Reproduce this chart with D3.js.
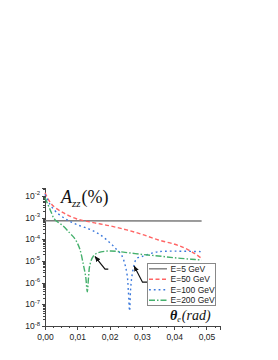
<!DOCTYPE html>
<meta charset="utf-8">
<head>
  <title>Azz versus theta</title>
</head>

<style>
  body {
    margin: 0;
    background: #fff;
    font-family: "Liberation Sans", Arial, sans-serif;
  }
  .axis path, .axis line {
    stroke: #444;
    shape-rendering: crispEdges;
  }
  .axis text {
    font-size: 8.5px;
    fill: #222;
  }
  .curve {
    fill: none;
    stroke-width: 1.4px;
  }
</style>

<body>
  <svg width="278" height="360"></svg>

  <script src="https://d3js.org/d3.v7.min.js"></script>

  <script>
    // series labels
    var energies = ["E=5 GeV", "E=50 GeV", "E=100 GeV", "E=200 GeV"];

    // E=5 GeV
    var theta5 = [0, 0.0485];
    var azz5 = [7.2e-4, 7.0e-4];

    // E=50 GeV
    var theta50 = [0, 0.001, 0.0025, 0.0056, 0.0097, 0.0149, 0.02, 0.0253, 0.03, 0.0351, 0.0402, 0.0433, 0.0464, 0.0485];
    var azz50 = [1.4e-2, 7.1e-3, 3.5e-3, 1.7e-3, 8.9e-4, 5.9e-4, 4.2e-4, 2.7e-4, 1.7e-4, 9.3e-5, 5.9e-5, 3.9e-5, 2.2e-5, 1.3e-5];

    // E=100 GeV
    var theta100 = [0, 0.0015, 0.0035, 0.0066, 0.0097, 0.0138, 0.0169, 0.02, 0.0221, 0.0237, 0.0248, 0.0255, 0.0258, 0.0262,
                    0.0265, 0.0269, 0.0276, 0.0284, 0.03, 0.034, 0.037, 0.0485];
    var azz100 = [1.2e-2, 4.2e-3, 1.8e-3, 8.3e-4, 4.9e-4, 2.9e-4, 1.7e-4, 7.1e-5, 3.5e-5, 1.9e-5, 6.6e-6, 1.9e-6, 4.6e-7, 5e-8,
                  4.6e-7, 1.9e-6, 6.6e-6, 1.3e-5, 1.6e-5, 2.5e-5, 2.8e-5, 2.7e-5];

    // E=200 GeV
    var theta200 = [0, 0.0015, 0.003, 0.0056, 0.0076, 0.0088, 0.0097, 0.0108, 0.0119, 0.0126, 0.0131, 0.0135, 0.0139,
                    0.015, 0.0165, 0.0201, 0.0248, 0.03, 0.0351, 0.0402, 0.0454, 0.0485];
    var azz200 = [8.3e-3, 2.5e-3, 8.3e-4, 4.2e-4, 2.0e-4, 1.3e-4, 8.3e-5, 3.5e-5, 6.6e-6, 1.9e-6, 3.8e-7, 1.9e-6, 6.6e-6,
                  1.7e-5, 2.4e-5, 2.9e-5, 2.5e-5, 2.0e-5, 1.7e-5, 1.4e-5, 1.2e-5, 1.1e-5];

    // axis ticks
    var xTicks = [0, 0.01, 0.02, 0.03, 0.04, 0.05];
    var xTickLabels = ["0,00", "0,01", "0,02", "0,03", "0,04", "0,05"];
    var yExponents = [-8, -7, -6, -5, -4, -3, -2];

    // arrows pointing at the dips: [tip theta, tip azz, foot theta, foot azz, tail theta]
    var arrowGreen = [0.0155, 1.6e-5, 0.0186, 4.2e-6, 0.0196];
    var arrowBlue = [0.0276, 5.9e-6, 0.0302, 1.05e-6, 0.0316];

    var colors = ["#7c7c7c", "#ff6464", "#3a78dc", "#45b06c"];
    var dashes = [null, "4,2.5", "1.8,3", "6,2,1.5,2"];

    var svg = d3.select("svg");

    // scales
    var x = d3.scaleLinear().domain([0, 0.0542]).range([45, 220]);
    var y = d3.scaleLog().domain([1e-8, 2.4e-2]).range([326, 187.7]);

    // x axis
    var xMinor = d3.range(0, 0.0541, 0.0025);
    svg.append("g")
        .attr("class", "axis")
        .attr("transform", "translate(0,326)")
        .call(d3.axisBottom(x).tickValues(xMinor).tickSize(2).tickFormat(""));
    svg.append("g")
        .attr("class", "axis")
        .attr("transform", "translate(0,326)")
        .call(d3.axisBottom(x).tickValues(xTicks).tickSize(3.5).tickPadding(4)
          .tickFormat(function(d, i) { return xTickLabels[i]; }));

    // y axis
    var yMinor = [];
    yExponents.forEach(function(e) {
      for (var k = 2; k <= 9; k++) {
        var v = k * Math.pow(10, e);
        if (v <= 2.4e-2) yMinor.push(v);
      }
    });
    svg.append("g")
        .attr("class", "axis")
        .attr("transform", "translate(45,0)")
        .call(d3.axisLeft(y).tickValues(yMinor).tickSize(2).tickFormat(""));
    var yAxis = svg.append("g")
        .attr("class", "axis")
        .attr("transform", "translate(45,0)")
        .call(d3.axisLeft(y).tickValues(yExponents.map(function(e) { return Math.pow(10, e); }))
          .tickSize(3.5).tickFormat(""));

    // powers of ten labels
    var yLab = svg.append("g").attr("class", "axis");
    yExponents.forEach(function(e) {
      var t = yLab.append("text")
          .attr("x", 40)
          .attr("y", y(Math.pow(10, e)) + 3)
          .attr("text-anchor", "end");
      t.append("tspan").text("10");
      t.append("tspan").attr("dy", -3.5).style("font-size", "6px").text(String(e).replace("-", "-"));
    });

    // curves
    var line = d3.line()
        .curve(d3.curveCatmullRom.alpha(0.5))
        .x(function(d) { return x(d[0]); })
        .y(function(d) { return y(d[1]); });

    var series = [
      d3.zip(theta5, azz5),
      d3.zip(theta50, azz50),
      d3.zip(theta100, azz100),
      d3.zip(theta200, azz200)
    ];

    series.forEach(function(s, i) {
      svg.append("path")
          .datum(s)
          .attr("class", "curve")
          .attr("stroke", colors[i])
          .attr("stroke-dasharray", dashes[i])
          .attr("stroke-width", i == 0 ? 1.6 : 1.4)
          .attr("d", line);
    });

    // arrows
    svg.append("defs").append("marker")
        .attr("id", "head")
        .attr("viewBox", "0 0 10 10")
        .attr("refX", 9).attr("refY", 5)
        .attr("markerWidth", 5).attr("markerHeight", 5)
        .attr("orient", "auto")
      .append("path")
        .attr("d", "M0,1L10,5L0,9Z")
        .attr("fill", "#111");

    [arrowGreen, arrowBlue].forEach(function(a) {
      svg.append("path")
          .attr("fill", "none")
          .attr("stroke", "#111")
          .attr("stroke-width", 1.2)
          .attr("d", "M" + x(a[4]) + "," + y(a[3]) + "L" + x(a[2]) + "," + y(a[3]) + "L" + x(a[0]) + "," + y(a[1]))
          .attr("marker-end", "url(#head)");
    });

    // legend
    var legend = svg.append("g");
    legend.append("rect")
        .attr("x", 147.5).attr("y", 263.5)
        .attr("width", 68).attr("height", 42)
        .attr("fill", "#fff")
        .attr("stroke", "#888");
    energies.forEach(function(name, i) {
      var ly = 268.8 + i * 10.5;
      legend.append("line")
          .attr("x1", 149).attr("x2", 167)
          .attr("y1", ly).attr("y2", ly)
          .attr("stroke", colors[i])
          .attr("stroke-width", 1.4)
          .attr("stroke-dasharray", dashes[i]);
      legend.append("text")
          .attr("x", 170.5).attr("y", ly + 3)
          .style("font-size", "8.5px")
          .attr("fill", "#222")
          .text(name);
    });

    // title  A_zz (%)
    var title = svg.append("text")
        .attr("x", 61)
        .attr("y", 203)
        .style("font-family", "'Liberation Serif', 'Times New Roman', serif")
        .style("font-size", "18px")
        .attr("fill", "#111");
    title.append("tspan").style("font-style", "italic").text("A");
    title.append("tspan").style("font-style", "italic").style("font-size", "11px").attr("dy", 4).text("zz");
    title.append("tspan").attr("dy", -4).attr("dx", 1).text("(%)");

    // x label  theta_e (rad)
    var xl = svg.append("text")
        .attr("x", 170)
        .attr("y", 320)
        .style("font-family", "'Liberation Serif', 'Times New Roman', serif")
        .style("font-size", "14px")
        .attr("fill", "#111");
    xl.append("tspan").style("font-style", "italic").style("font-weight", "bold").text("θ");
    xl.append("tspan").style("font-style", "italic").style("font-size", "8px").attr("dy", 2).text("e");
    xl.append("tspan").style("font-style", "italic").attr("dy", -2).attr("dx", 1).text("(rad)");
  </script>
</body>
